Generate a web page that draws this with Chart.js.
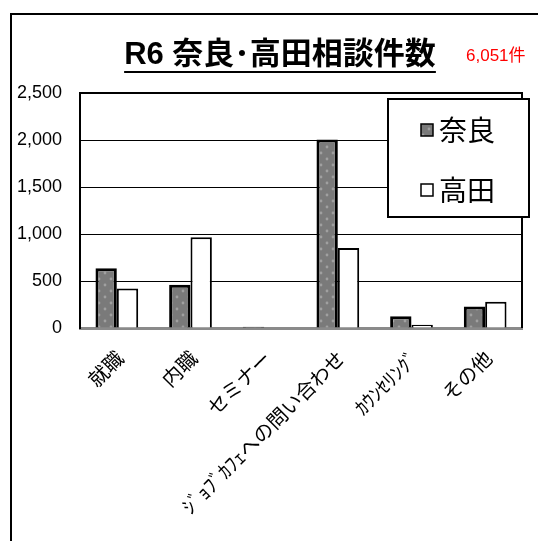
<!DOCTYPE html>
<html>
<head>
<meta charset="utf-8">
<script src="https://cdn.jsdelivr.net/npm/chart.js@4.4.1/dist/chart.umd.min.js"></script>
<style>
  html, body { margin: 0; padding: 0; background: #fff; overflow: hidden; }
  #frame { position: absolute; left: 10px; top: 13px; width: 600px; height: 600px; border: 2px solid #000; }
  #chart { position: absolute; left: 0; top: 0; }
</style>
</head>
<body>
<div id="frame"></div>
<canvas id="chart" width="538" height="541"></canvas>
<script>
const categories = ["就職", "内職", "セミナー", "ｼﾞｮﾌﾞｶﾌｪへの問い合わせ", "ｶｳﾝｾﾘﾝｸﾞ", "その他"];
const seriesNames = ["奈良", "高田"];
const naraValues = [635, 460, 12, 2005, 125, 230];
const takadaValues = [420, 965, 0, 850, 35, 280];
const yTicks = [0, 500, 1000, 1500, 2000, 2500];
const chartTitle = "R6 奈良･高田相談件数";
const totalLabel = "6,051件";

const numFont = "'Liberation Sans', 'Noto Sans CJK JP', sans-serif";
const jpFont = "'Noto Sans CJK JP', sans-serif";

// dotted gray fill like the original bars
function makePattern() {
  const p = document.createElement("canvas");
  p.width = 12;
  p.height = 12;
  const c = p.getContext("2d");
  c.fillStyle = "#7a7a7a";
  c.fillRect(0, 0, 12, 12);
  c.fillStyle = "#a0a0a0";
  c.beginPath(); c.arc(3, 3, 1.4, 0, Math.PI * 2); c.fill();
  c.beginPath(); c.arc(9, 9, 1.4, 0, Math.PI * 2); c.fill();
  return document.getElementById("chart").getContext("2d").createPattern(p, "repeat");
}

const decorations = {
  id: "decorations",
  beforeDraw(chart) {
    const ctx = chart.ctx;
    ctx.save();
    ctx.fillStyle = "#fff";
    ctx.fillRect(12, 15, chart.width, chart.height);
    ctx.restore();
  },
  afterDraw(chart) {
    const ctx = chart.ctx;
    const area = chart.chartArea;
    ctx.save();

    // plot frame top / right
    ctx.strokeStyle = "#000";
    ctx.lineWidth = 2;
    ctx.beginPath();
    ctx.moveTo(area.left, area.top);
    ctx.lineTo(area.right, area.top);
    ctx.lineTo(area.right, area.bottom);
    ctx.stroke();

    // title with underline
    ctx.font = "bold 31px " + numFont;
    ctx.fillStyle = "#000";
    ctx.textAlign = "center";
    ctx.textBaseline = "middle";
    const tx = 280, ty = 55;
    ctx.fillText(chartTitle, tx, ty);
    const tw = ctx.measureText(chartTitle).width;
    ctx.fillRect(tx - tw / 2, ty + 16, tw, 2);

    // total in red
    ctx.font = "17px " + numFont;
    ctx.fillStyle = "#ff0000";
    ctx.textAlign = "left";
    ctx.fillText(totalLabel, 466, 56);

    // legend box
    const lx = 388, ly = 99, lw = 141, lh = 118;
    ctx.fillStyle = "#fff";
    ctx.fillRect(lx, ly, lw, lh);
    ctx.strokeStyle = "#000";
    ctx.lineWidth = 2;
    ctx.strokeRect(lx, ly, lw, lh);
    chart.data.datasets.forEach((ds, i) => {
      const cy = 130 + i * 60;
      ctx.fillStyle = ds.backgroundColor;
      ctx.fillRect(421, cy - 6, 12, 12);
      ctx.lineWidth = 1.5;
      ctx.strokeStyle = "#000";
      ctx.strokeRect(421, cy - 6, 12, 12);
      ctx.fillStyle = "#000";
      ctx.font = "28px " + jpFont;
      ctx.textAlign = "left";
      ctx.textBaseline = "middle";
      ctx.fillText(ds.label, 439, cy);
    });
    ctx.restore();
  },
};

new Chart(document.getElementById("chart"), {
  type: "bar",
  data: {
    labels: categories,
    datasets: [
      {
        label: seriesNames[0],
        data: naraValues,
        backgroundColor: makePattern(),
        borderColor: "#000",
        borderWidth: 3,
      },
      {
        label: seriesNames[1],
        data: takadaValues,
        backgroundColor: "#fff",
        borderColor: "#000",
        borderWidth: 2,
      },
    ],
  },
  options: {
    responsive: false,
    animation: false,
    layout: { padding: { top: 93, right: 16, left: 0, bottom: 0 } },
    datasets: { bar: { categoryPercentage: 0.58, barPercentage: 1 } },
    plugins: {
      legend: { display: false },
      title: { display: false },
      tooltip: { enabled: false },
    },
    scales: {
      x: {
        grid: { display: false, drawTicks: false },
        border: { display: true, color: "#8a8a8a", width: 3 },
        ticks: {
          color: "#000",
          font: { family: jpFont, size: 20 },
          minRotation: 45,
          maxRotation: 45,
          padding: 18,
          labelOffset: 3,
          autoSkip: false,
        },
        afterFit(scale) { scale.height = 213; },
      },
      y: {
        min: 0,
        max: 2500,
        afterBuildTicks(scale) { scale.ticks = yTicks.map((v) => ({ value: v })); },
        grid: { color: "#000", lineWidth: 1, drawTicks: false },
        border: { display: true, color: "#000", width: 2 },
        ticks: {
          color: "#000",
          font: { family: numFont, size: 18 },
          padding: 18,
          callback: (v) => v.toLocaleString("en-US"),
        },
        afterFit(scale) { scale.width = 80; },
      },
    },
  },
  plugins: [decorations],
});
</script>
</body>
</html>
